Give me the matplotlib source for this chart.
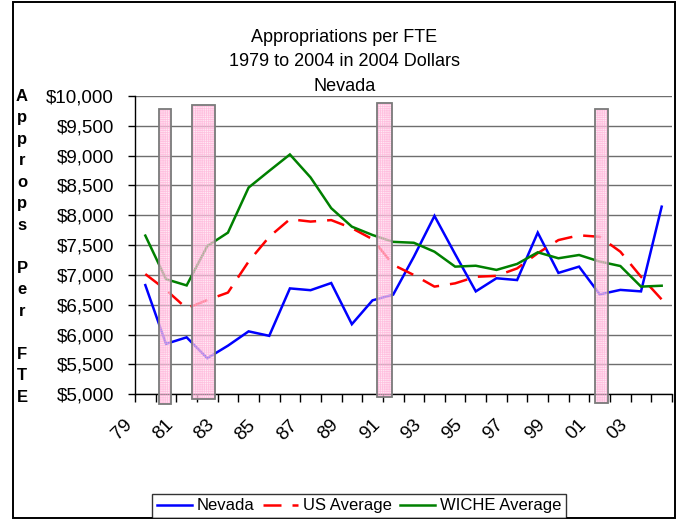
import matplotlib
matplotlib.use("Agg")
import matplotlib.pyplot as plt
import matplotlib.patches as mpatches
from matplotlib.transforms import ScaledTranslation
import numpy as np

plt.rcParams["font.family"] = ["Liberation Sans", "DejaVu Sans"]
plt.rcParams["hatch.linewidth"] = 0.5

# ---- data -------------------------------------------------------------
years = list(range(1979, 2005))
nevada = [6830, 5845, 5955, 5605, 5815, 6055, 5980, 6775, 6745, 6865,
          6175, 6575, 6670, 7305, 7990, 7350, 6725, 6945, 6915, 7710,
          7035, 7140, 6675, 6750, 6725, 8145]
us_avg = [7015, 6750, 6440, 6580, 6705, 7225, 7640, 7935, 7895, 7920,
          7785, 7600, 7170, 7000, 6805, 6860, 6970, 6985, 7110, 7365,
          7585, 7665, 7640, 7390, 6970, 6590]
wiche_avg = [7660, 6930, 6825, 7485, 7710, 8465, 8745, 9020, 8635, 8120,
             7810, 7670, 7555, 7540, 7390, 7140, 7155, 7085, 7185, 7380,
             7280, 7335, 7225, 7150, 6805, 6820]

tick_years = years[::2]
tick_labels = [f"{y % 100:02d}" for y in tick_years]
y_ticks = list(range(5000, 10001, 500))

# shaded recession periods (start, end, top, bottom)
rec_start = [1979.65, 1981.27, 1990.22, 2000.79]
rec_end = [1980.26, 1982.39, 1990.93, 2001.38]
rec_top = [9780, 9850, 9890, 9780]
rec_bottom = [4840, 4915, 4960, 4850]

title_lines = ["Appropriations per FTE", "1979 to 2004 in 2004 Dollars", "Nevada"]
ylabel_text = "Approps Per FTE"

# ---- figure -----------------------------------------------------------
W, H = 678, 519
fig = plt.figure(figsize=(W / 100, H / 100), dpi=100)
ax = fig.add_axes([135 / W, 1 - 394.3 / H, (672 - 135) / W, (394.3 - 96) / H])

ax.plot(years, nevada, color="#0000FF", lw=1.8, label="Nevada", zorder=3,
        solid_joinstyle="miter")
ax.plot(years, us_avg, color="#FF0000", lw=1.8, label="US Average", zorder=3,
        dashes=(7.2, 4.4), dash_capstyle="butt")
ax.plot(years, wiche_avg, color="#008000", lw=1.8, label="WICHE Average",
        zorder=3, solid_joinstyle="miter")

for x0, x1, t, b in zip(rec_start, rec_end, rec_top, rec_bottom):
    fill = mpatches.Rectangle((x0, b), x1 - x0, t - b, facecolor="#FFE2F1",
                              edgecolor="#FFA3D1", hatch="+" * 9, lw=0,
                              alpha=0.6, zorder=4, clip_on=False)
    ax.add_patch(fill)
    edge = mpatches.Rectangle((x0, b), x1 - x0, t - b, fill=False,
                              edgecolor="#7a7a7a", lw=1.3, zorder=5,
                              clip_on=False)
    ax.add_patch(edge)

ax.set_xlim(1978.5, 2004.5)
ax.set_ylim(5000, 10000)

# y axis
ax.set_yticks(y_ticks)
ax.set_yticklabels([f"${v:,}" for v in y_ticks], fontsize=13.5)
ax.tick_params(axis="y", direction="out", length=5, width=1, pad=10)
ax.yaxis.grid(True, color="#6e6e6e", lw=1.0)
ax.set_axisbelow(True)

# x axis: ticks between categories, labels on every other year
ax.set_xticks(np.arange(1978.5, 2005, 1.0), minor=True)
ax.set_xticks(tick_years)
ax.set_xticklabels(tick_labels, fontsize=13.5, rotation=45, ha="right",
                   va="top")
ax.tick_params(axis="x", which="major", length=0, pad=16)
ax.tick_params(axis="x", which="minor", direction="out", length=6, width=1)
shift = ScaledTranslation(-0.10, 0, fig.dpi_scale_trans)
for lab in ax.get_xticklabels():
    lab.set_transform(lab.get_transform() + shift)

for side in ("top", "right"):
    ax.spines[side].set_visible(False)
for side in ("left", "bottom"):
    ax.spines[side].set_color("black")
    ax.spines[side].set_linewidth(1.0)

# title
for i, line in enumerate(title_lines):
    fig.text(344.5 / W, 1 - (42.3 + 24.2 * i) / H, line, ha="center",
             va="baseline", fontsize=13)

# stacked axis label
for i, ch in enumerate(ylabel_text):
    if ch != " ":
        fig.text(22 / W, 1 - (100.7 + 21.5 * i) / H, ch, ha="center",
                 va="baseline", fontsize=12, fontweight="bold")

# legend
leg = fig.legend(loc="lower center", bbox_to_anchor=(359 / W, 1.5 / H),
                 bbox_transform=fig.transFigure, ncol=3, fontsize=12,
                 frameon=True, fancybox=False, edgecolor="black",
                 handlelength=2.1, handletextpad=0.3, columnspacing=0.5,
                 borderpad=0.25, borderaxespad=0)
leg.get_frame().set_linewidth(1.0)

# outer border
fig.patches.append(mpatches.Rectangle((12.5 / W, 1 / H), (674.5 - 12.5) / W,
                                      (518 - 1.5) / H, fill=False,
                                      edgecolor="black", lw=1.4,
                                      transform=fig.transFigure, figure=fig))

fig.savefig("out.png", dpi=100)
